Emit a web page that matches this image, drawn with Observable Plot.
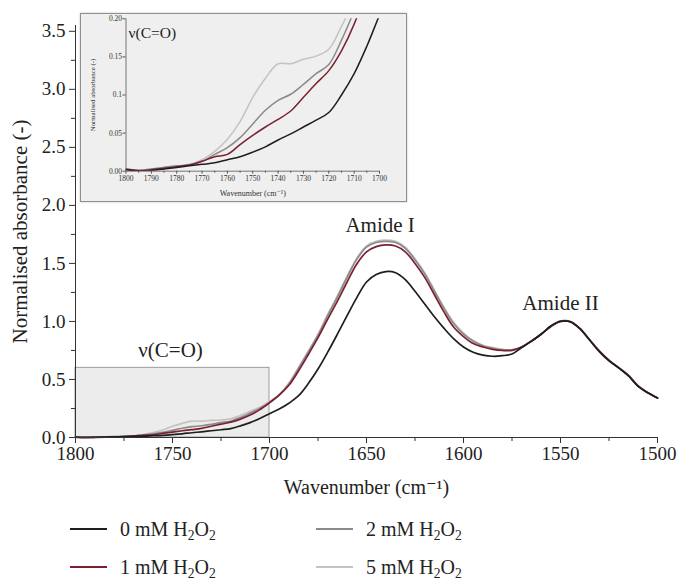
<!DOCTYPE html>
<html>
<head>
<meta charset="utf-8">
<script src="https://cdn.jsdelivr.net/npm/d3@7"></script>
<script src="https://cdn.jsdelivr.net/npm/@observablehq/plot@0.6"></script>
<style>
  html, body { margin: 0; padding: 0; background: #fff; }
  body { font-family: "Liberation Serif", "DejaVu Serif", serif; color: #222; }
  #wrap { position: relative; width: 678px; height: 581px; overflow: hidden; }
  #main { position: absolute; left: 0; top: 0; }
  #inset { position: absolute; left: 80px; top: 13px; width: 327px; height: 189px;
           background: #efefef; border: 1px solid #8f8f8f; box-sizing: border-box;
           box-shadow: 0 0 2px rgba(0,0,0,0.25); }
  #legend { position: absolute; left: 70px; top: 510px; display: grid;
            grid-template-rows: 38px 38px; grid-template-columns: 246px 246px;
            grid-auto-flow: column; }
  .item { display: flex; align-items: center; font-size: 20px; line-height: 22px; white-space: nowrap; }
  .swatch { width: 37px; height: 2.3px; margin-right: 13px; }
  sub { font-size: 68%; vertical-align: -0.28em; line-height: 0; }
</style>
</head>
<body>
<div id="wrap">
  <div id="main"></div>
  <div id="inset"></div>
  <div id="legend"></div>
</div>
<script>
// ---------------- data ----------------
const seriesNames = ["0 mM H₂O₂", "1 mM H₂O₂", "2 mM H₂O₂", "5 mM H₂O₂"];

const wavenumber = [
  1800, 1795, 1790, 1785, 1780, 1775, 1770, 1765, 1760, 1755,
  1750, 1745, 1740, 1735, 1730, 1725, 1720, 1715, 1710, 1705,
  1700, 1695, 1690, 1685, 1680, 1675, 1670, 1665, 1660, 1655,
  1650, 1645, 1640, 1635, 1630, 1625, 1620, 1615, 1610, 1605,
  1600, 1595, 1590, 1585, 1580, 1575, 1570, 1565, 1560, 1555,
  1550, 1545, 1540, 1535, 1530, 1525, 1520, 1515, 1510, 1505,
  1500
];

const abs0mM = [
  0.002, 0.000, 0.001, 0.003, 0.005, 0.007, 0.009, 0.011, 0.015, 0.019,
  0.025, 0.032, 0.041, 0.049, 0.058, 0.067, 0.077, 0.100, 0.128, 0.164,
  0.205, 0.245, 0.295, 0.360, 0.465, 0.590, 0.735, 0.890, 1.050, 1.205,
  1.340, 1.405, 1.430, 1.420, 1.360, 1.260, 1.150, 1.040, 0.940, 0.850,
  0.780, 0.735, 0.710, 0.700, 0.705, 0.720, 0.775, 0.830, 0.890, 0.960,
  1.000, 1.000, 0.940, 0.840, 0.740, 0.660, 0.600, 0.530, 0.440, 0.385,
  0.340
];

const abs1mM = [
  0.003, 0.001, 0.002, 0.004, 0.006, 0.008, 0.013, 0.019, 0.022, 0.035,
  0.047, 0.058, 0.068, 0.079, 0.097, 0.115, 0.132, 0.158, 0.193, 0.240,
  0.300, 0.365, 0.450, 0.575, 0.715, 0.860, 1.020, 1.175, 1.340, 1.495,
  1.600, 1.645, 1.660, 1.650, 1.600, 1.500, 1.380, 1.230, 1.080, 0.950,
  0.870, 0.810, 0.780, 0.760, 0.750, 0.750, 0.780, 0.830, 0.890, 0.955,
  1.000, 0.995, 0.935, 0.840, 0.745, 0.665, 0.600, 0.535, 0.445, 0.385,
  0.340
];

const abs2mM = [
  0.002, 0.001, 0.003, 0.005, 0.007, 0.008, 0.013, 0.022, 0.031, 0.044,
  0.062, 0.080, 0.093, 0.101, 0.114, 0.128, 0.140, 0.172, 0.210, 0.250,
  0.300, 0.365, 0.460, 0.595, 0.735, 0.880, 1.050, 1.210, 1.380, 1.535,
  1.640, 1.680, 1.690, 1.680, 1.630, 1.530, 1.410, 1.260, 1.110, 0.980,
  0.890, 0.830, 0.790, 0.770, 0.755, 0.755, 0.780, 0.830, 0.890, 0.958,
  1.003, 0.998, 0.938, 0.842, 0.745, 0.665, 0.602, 0.535, 0.445, 0.387,
  0.342
];

const abs5mM = [
  0.002, 0.001, 0.003, 0.005, 0.007, 0.009, 0.015, 0.026, 0.042, 0.065,
  0.097, 0.122, 0.141, 0.141, 0.147, 0.151, 0.160, 0.190, 0.225, 0.260,
  0.310, 0.372, 0.470, 0.605, 0.745, 0.890, 1.060, 1.220, 1.390, 1.545,
  1.650, 1.690, 1.700, 1.690, 1.640, 1.540, 1.420, 1.270, 1.120, 0.990,
  0.900, 0.835, 0.795, 0.775, 0.760, 0.755, 0.780, 0.832, 0.892, 0.960,
  1.005, 1.000, 0.940, 0.845, 0.748, 0.668, 0.604, 0.537, 0.447, 0.388,
  0.343
];

const seriesValues = [abs0mM, abs1mM, abs2mM, abs5mM];

// main axis ticks
const xMajorTicks = [1800, 1750, 1700, 1650, 1600, 1550, 1500];
const xMinorTicks = [1775, 1725, 1675, 1625, 1575, 1525];
const yMajorTicks = [0, 0.5, 1.0, 1.5, 2.0, 2.5, 3.0, 3.5];
const yMinorTicks = [0.25, 0.75, 1.25, 1.75, 2.25, 2.75, 3.25];
// inset ticks
const insetXMajorTicks = [1800, 1790, 1780, 1770, 1760, 1750, 1740, 1730, 1720, 1710, 1700];
const insetXMinorTicks = [1795, 1785, 1775, 1765, 1755, 1745, 1735, 1725, 1715, 1705];
const insetYTicks = [0, 0.05, 0.1, 0.15, 0.2];
const insetYTickLabels = ["0.00", "0.05", "0.1", "0.15", "0.20"];

// zoomed region and annotations
const zoomRegionX = [1800, 1700];
const zoomRegionY = [0, 0.6];
const annotationText = ["Amide I", "Amide II", "ν(C=O)"];
const annotationX = [1643, 1550, 1751];
const annotationY = [1.83, 1.16, 0.75];

const yTitle = "Normalised absorbance (-)";
const xTitle = "Wavenumber (cm⁻¹)";
const insetNote = "ν(C=O)";

// ---------------- styling ----------------
const seriesColors = ["#1e1e1e", "#7c1f31", "#8a8a8a", "#c3c3c3"];
const FONT = "'Liberation Serif', 'DejaVu Serif', serif";

// ---------------- build tables ----------------
const drawOrder = [3, 2, 1, 0]; // lightest first, black on top
const table = [];
for (const si of drawOrder) {
  wavenumber.forEach((w, i) => table.push({ w, a: seriesValues[si][i], s: seriesNames[si] }));
}
const zoomBox = [{ x1: zoomRegionX[0], x2: zoomRegionX[1], y1: zoomRegionY[0], y2: zoomRegionY[1] }];
const annotations = annotationText.map((t, i) => ({ text: t, x: annotationX[i], y: annotationY[i] }));

// ---------------- main chart ----------------
const H = 505;
const main = Plot.plot({
  width: 678, height: H,
  marginLeft: 75, marginRight: 21, marginTop: 25, marginBottom: H - 437,
  x: { domain: [1800, 1500], axis: null },
  y: { domain: [0, 3.55], axis: null },
  color: { domain: seriesNames, range: seriesColors },
  style: { fontFamily: FONT, color: "#222", background: "transparent", overflow: "visible" },
  marks: [
    Plot.rect(zoomBox, { x1: "x1", x2: "x2", y1: "y1", y2: "y2", fill: "#ececec", stroke: "#9c9c9c", strokeWidth: 1 }),
    Plot.line(table, { x: "w", y: "a", z: "s", stroke: "s", strokeWidth: 1.7, curve: "catmull-rom" }),
    Plot.ruleX([1800], { stroke: "#333" }),
    Plot.ruleY([0], { stroke: "#333" }),
    Plot.axisX(xMajorTicks, { tickSize: 6, tickPadding: 3, tickFormat: d => String(d), fontSize: 19, label: null, stroke: "#333", fill: "#222" }),
    Plot.axisX(xMinorTicks, { tickSize: 4, fill: "none", label: null, stroke: "#333" }),
    Plot.axisY(yMajorTicks, { tickSize: 6, tickPadding: 4, tickFormat: d => d.toFixed(1), fontSize: 19, label: null, stroke: "#333", fill: "#222" }),
    Plot.axisY(yMinorTicks, { tickSize: 4, fill: "none", label: null, stroke: "#333" }),
    Plot.text(annotations, { x: "x", y: "y", text: "text", fontSize: 21, fill: "#222" }),
    Plot.text([yTitle], { text: d => d, frameAnchor: "left", textAnchor: "middle", lineAnchor: "middle", rotate: -90, dx: -55, fontSize: 21, fill: "#222" }),
    Plot.text([xTitle], { text: d => d, frameAnchor: "bottom", textAnchor: "middle", lineAnchor: "middle", dy: 50, fontSize: 20, fill: "#222" })
  ]
});
document.getElementById("main").appendChild(main);

// ---------------- inset ----------------
const IW = 325, IH = 187;
const insetTable = table.filter(d => d.w >= 1695);
const inset = Plot.plot({
  width: IW, height: IH,
  marginLeft: 44.5, marginRight: 27, marginTop: 4.3, marginBottom: IH - 156.7,
  x: { domain: [1800, 1700], axis: null },
  y: { domain: [0, 0.2], axis: null },
  color: { domain: seriesNames, range: seriesColors },
  style: { fontFamily: FONT, color: "#333", background: "transparent", overflow: "visible" },
  marks: [
    Plot.line(insetTable, { x: "w", y: "a", z: "s", stroke: "s", strokeWidth: 1.5, curve: "catmull-rom", clip: true }),
    Plot.ruleX([1800], { stroke: "#555", strokeWidth: 0.8 }),
    Plot.ruleY([0], { stroke: "#555", strokeWidth: 0.8 }),
    Plot.axisX(insetXMajorTicks, { tickSize: 3, tickPadding: 1, tickFormat: d => String(d), fontSize: 7.5, label: null, stroke: "#555", fill: "#333" }),
    Plot.axisX(insetXMinorTicks, { tickSize: 2, fill: "none", label: null, stroke: "#555" }),
    Plot.axisY(insetYTicks, { tickSize: 3, tickPadding: 1, tickFormat: d => insetYTickLabels[insetYTicks.indexOf(d)], fontSize: 7.5, label: null, stroke: "#555", fill: "#333" }),
    Plot.text([insetNote], { text: d => d, x: 1799, y: 0.181, textAnchor: "start", fontSize: 15.5, fill: "#222" }),
    Plot.text([yTitle], { text: d => d, frameAnchor: "left", textAnchor: "middle", lineAnchor: "middle", rotate: -90, dx: -33.5, fontSize: 6.8, fill: "#333" }),
    Plot.text([xTitle], { text: d => d, frameAnchor: "bottom", textAnchor: "middle", lineAnchor: "middle", dy: 22, fontSize: 8, fill: "#333" })
  ]
});
document.getElementById("inset").appendChild(inset);

// ---------------- legend ----------------
const legend = document.getElementById("legend");
seriesNames.forEach((name, i) => {
  const item = document.createElement("div");
  item.className = "item";
  const sw = document.createElement("div");
  sw.className = "swatch";
  sw.style.background = seriesColors[i];
  const label = document.createElement("span");
  label.innerHTML = name.replace(/₂/g, "<sub>2</sub>");
  item.appendChild(sw);
  item.appendChild(label);
  legend.appendChild(item);
});
</script>
</body>
</html>
